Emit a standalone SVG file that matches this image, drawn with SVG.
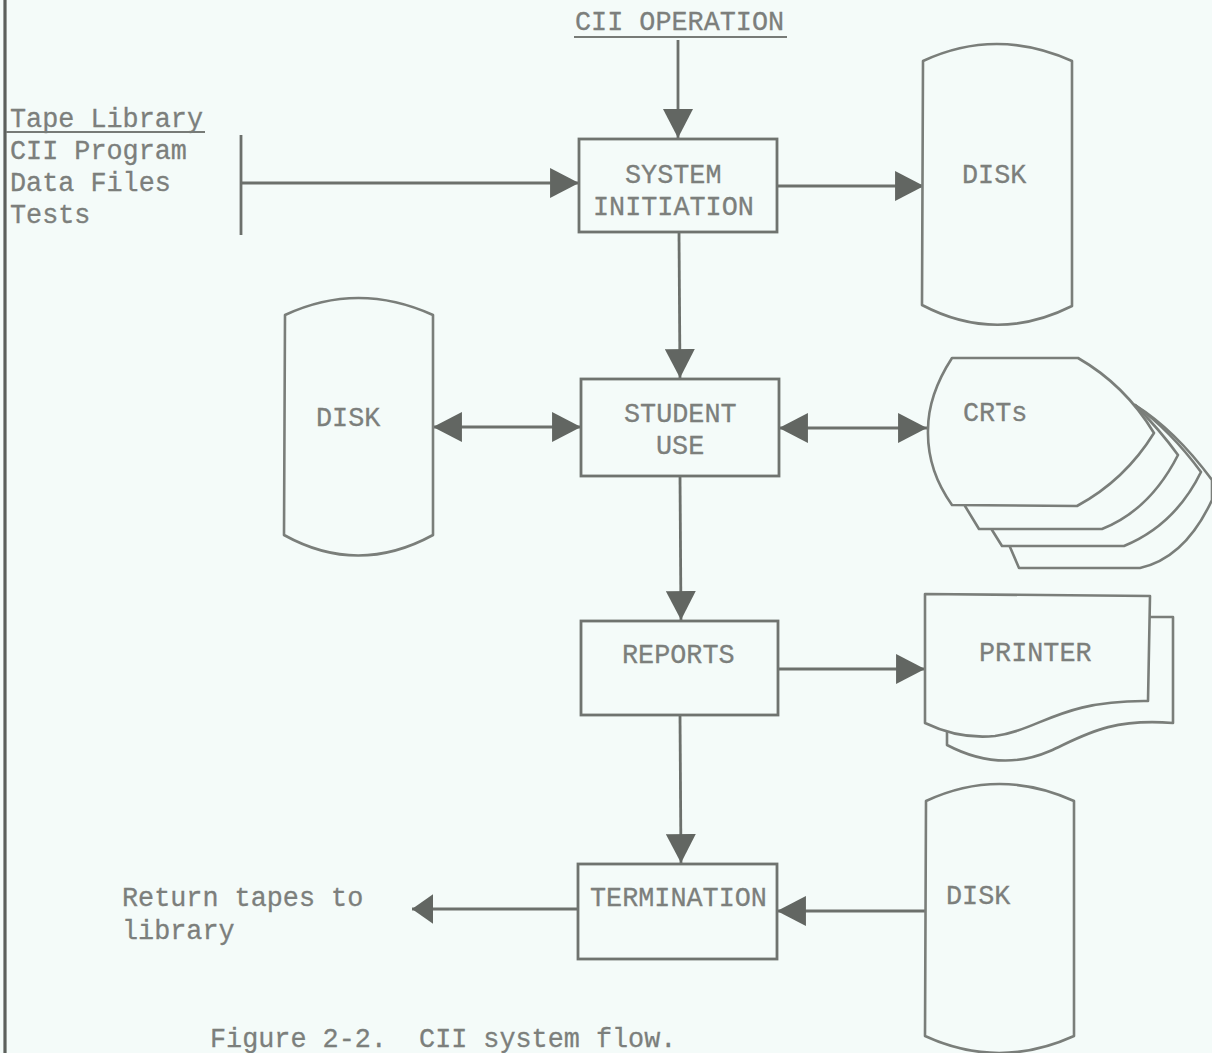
<svg xmlns="http://www.w3.org/2000/svg" width="1212" height="1053" viewBox="0 0 1212 1053">
<style>
.t{font-family:"Liberation Mono","DejaVu Sans Mono",monospace;font-size:26.8px;fill:#7c7f7c;stroke:#7c7f7c;stroke-width:.3;white-space:pre}
.b{fill:none;stroke:#6f736f;stroke-width:2.8}
.s{fill:#f4fbf9;stroke:#7a7e7a;stroke-width:2.6;stroke-linejoin:round}
.c{fill:none;stroke:#6c706c;stroke-width:2.8}
.u{stroke:#777b77;stroke-width:2.2}
</style>
<defs>
<marker id="a" markerUnits="userSpaceOnUse" markerWidth="30" markerHeight="30" refX="27" refY="14" orient="auto-start-reverse" viewBox="0 0 28 28"><path d="M0 0L27 14L0 28Z" fill="#626662"/></marker>
<marker id="k" markerUnits="userSpaceOnUse" markerWidth="30" markerHeight="30" refX="20" refY="14" orient="auto" viewBox="0 0 28 28"><path d="M0 0L20 14L0 28Z" fill="#626662"/></marker>
</defs>
<rect width="1212" height="1053" fill="#f4fbf9"/>
<line x1="5" y1="0" x2="5" y2="1053" stroke="#5c605c" stroke-width="3.2"/>
<g id="connectors">
<line class="c" x1="678" y1="40" x2="678" y2="138" marker-end="url(#a)"/>
<line class="c" x1="241" y1="183" x2="579" y2="183" marker-end="url(#a)"/>
<line class="c" x1="241" y1="135" x2="241" y2="235"/>
<line class="c" x1="777" y1="186" x2="924" y2="186" marker-end="url(#a)"/>
<line class="c" x1="679" y1="232" x2="680" y2="378" marker-end="url(#a)"/>
<line class="c" x1="433" y1="427" x2="581" y2="427" marker-start="url(#a)" marker-end="url(#a)"/>
<line class="c" x1="779" y1="428" x2="927" y2="428" marker-start="url(#a)" marker-end="url(#a)"/>
<line class="c" x1="680" y1="476" x2="681" y2="620" marker-end="url(#a)"/>
<line class="c" x1="777" y1="669" x2="925" y2="669" marker-end="url(#a)"/>
<line class="c" x1="680" y1="715" x2="681" y2="863" marker-end="url(#a)"/>
<line class="c" x1="925" y1="911" x2="777" y2="911" marker-end="url(#a)"/>
<line class="c" x1="578" y1="909" x2="412" y2="909" marker-end="url(#k)"/>
</g>
<g id="title"><text class="t" x="575" y="30">CII OPERATION</text><line class="u" x1="574" y1="37" x2="787" y2="37"/></g>
<g id="tape-library"><text class="t" x="10" y="127">Tape Library</text><line class="u" x1="6" y1="132" x2="205" y2="132"/><text class="t" x="10" y="159">CII Program</text><text class="t" x="10" y="191">Data Files</text><text class="t" x="10" y="223">Tests</text></g>
<g id="system-initiation"><rect class="b" x="579" y="139" width="198" height="93"/><text class="t" x="625" y="183">SYSTEM</text><text class="t" x="593" y="215">INITIATION</text></g>
<g id="student-use"><rect class="b" x="581" y="379" width="198" height="97"/><text class="t" x="624" y="422">STUDENT</text><text class="t" x="656" y="454">USE</text></g>
<g id="reports"><rect class="b" x="581" y="621" width="197" height="94"/><text class="t" x="622" y="663">REPORTS</text></g>
<g id="termination"><rect class="b" x="578" y="864" width="199" height="95"/><text class="t" x="590" y="906">TERMINATION</text></g>
<g id="disk-1"><path class="s" d="M923 61Q996 27 1072 61V306Q996 344 922 305Z"/><text class="t" x="962" y="183">DISK</text></g>
<g id="disk-2"><path class="s" d="M285 315Q358 281 433 315V535Q358 576 284 535Z"/><text class="t" x="316" y="426">DISK</text></g>
<g id="disk-3"><path class="s" d="M926 801Q999 767 1074 801V1036Q999 1070 925 1036Z"/><text class="t" x="946" y="904">DISK</text></g>
<g id="crts">
<path class="s" d="M1010 450V547L1019 568H1140Q1185 558 1212 500V480Q1175 430 1135 405Z"/>
<path class="s" d="M992 450V530L1002 546H1124Q1175 525 1201 472Q1170 430 1135 405Z"/>
<path class="s" d="M965 450V506L979 529H1102Q1150 510 1178 455Q1160 430 1135 405Z"/>
<path class="s" d="M952 358H1078Q1125 385 1154 433Q1125 480 1077 506L952 505Q927 470 928 430Q928 395 952 358Z"/>
<text class="t" x="963" y="421">CRTs</text>
</g>
<g id="printer">
<path class="s" d="M1149 617H1173V723C1110 718 1085 735 1050 751C1020 764 985 765 947 745V731L1000 650Z"/>
<path class="s" d="M925 594L1150 596L1148 701C1060 700 1040 730 995 736C975 738 950 735 925 723Z"/>
<text class="t" x="979" y="661">PRINTER</text>
</g>
<g id="return"><text class="t" x="122" y="906">Return tapes to</text><text class="t" x="122" y="939">library</text></g>
<g id="caption"><text class="t" x="210" y="1047">Figure 2-2.  CII system flow.</text></g>
</svg>
